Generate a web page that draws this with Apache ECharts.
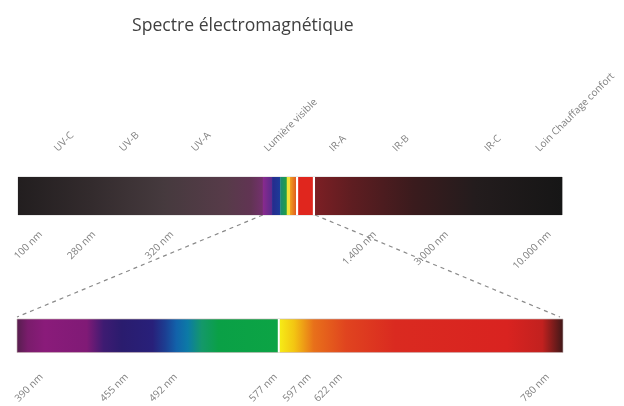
<!DOCTYPE html>
<html><head><meta charset="utf-8">
<script src="https://cdn.jsdelivr.net/npm/echarts@6/dist/echarts.min.js"></script>
<style>html,body{margin:0;padding:0;background:#fff}#c{width:624px;height:406px}</style>
</head><body><div id="c"></div>
<script>
// ---------------- data ----------------
const titleText = 'Spectre électromagnétique';
// Top bar: schematic position along the bar (0–100 %)
const topBandNames = ['UV-C', 'UV-B', 'UV-A', 'Lumière visible', 'IR-A', 'IR-B', 'IR-C', 'Loin Chauffage confort'];
const topBandPos = [7.0, 19.0, 32.2, 45.6, 57.6, 69.2, 86.1, 95.5];
const topTickLabels = ['100 nm', '280 nm', '320 nm', '1.400 nm', '3.000 nm', '10.000 nm'];
const topTickPos = [4.2, 14.0, 28.3, 65.6, 78.8, 97.7];
// Top bar segments (schematic units): UV, violet, blue, green, yellow, orange, white, red, white, IR
const topSegStart = [0, 45.0, 46.7, 48.2, 49.4, 50.0, 51.1, 51.5, 54.2, 54.6];
const topSegEnd   = [45.0, 46.7, 48.2, 49.4, 50.0, 51.1, 51.5, 54.2, 54.6, 100];
const visibleStart = 45.0;
const visibleEnd = 54.6;
// Bottom bar: wavelength scale (nm)
const nmMin = 390;
const nmMax = 780;
const nmTickLabels = ['390 nm', '455 nm', '492 nm', '577 nm', '597 nm', '622 nm', '780 nm'];
const nmTickPos = [4.5, 20.1, 29.1, 47.4, 53.6, 59.3, 97.2];
const nmDivider = 577;
const spectrumNm = [390, 398, 410, 440, 452, 465, 487, 496, 504, 512, 522, 534, 576, 578, 588, 602, 625, 660, 740, 765, 780];

// ---------------- style ----------------
const topSegFills = [
  [[0, '#221e1f'], [0.3, '#332b2d'], [0.6, '#463a3e'], [0.85, '#573b49'], [0.95, '#613453'], [1, '#74306e']],
  [[0, '#8a2a8e'], [1, '#5a2a8c']],
  [[0, '#262a8c'], [1, '#1c3c9a']],
  [[0, '#168a78'], [1, '#22a040']],
  '#f2e23a',
  [[0, '#f0a020'], [1, '#e05a20']],
  '#ffffff',
  '#e0261e',
  '#ffffff',
  [[0, '#7c1f24'], [0.15, '#5e1d21'], [0.4, '#3a1b1d'], [0.65, '#231c1d'], [1, '#161616']]
];
const spectrumColors = ['#561e4e', '#7a1c6c', '#8a1b7a', '#801a76', '#3e1b72', '#2a1c6e', '#28207a', '#1c3e92', '#1262aa', '#0c7aa6', '#14986a', '#0aa046', '#0ca445', '#f6ea16', '#f3c512', '#e8701a', '#e0441f', '#da2a20', '#d92320', '#c2211f', '#3e1818'];
const labelFont = { fontFamily: 'Open Sans', fontSize: 10, color: '#808080' };

function fillOf(f) {
  if (typeof f === 'string') return f;
  return new echarts.graphic.LinearGradient(0, 0, 1, 0, f.map(s => ({ offset: s[0], color: s[1] })));
}
function lookup(vals, labels) {
  return v => { const i = vals.findIndex(p => Math.abs(p - v) < 1e-6); return i >= 0 ? labels[i] : ''; };
}

const chart = echarts.init(document.getElementById('c'), null, { renderer: 'canvas' });
const hiddenAxisParts = { axisLine: { show: false }, axisTick: { show: false }, splitLine: { show: false } };

chart.setOption({
  animation: false,
  backgroundColor: '#ffffff',
  title: {
    text: titleText, left: 127, top: 12,
    textStyle: { fontFamily: 'Open Sans', fontSize: 17.6, fontWeight: 'normal', color: '#404040' }
  },
  grid: [
    { left: 18, top: 177, width: 544, height: 38 },
    { left: 17, top: 319, width: 546, height: 40 }
  ],
  xAxis: [
    Object.assign({ gridIndex: 0, type: 'value', min: 0, max: 100, position: 'top',
      axisLabel: Object.assign({ customValues: topBandPos, formatter: lookup(topBandPos, topBandNames), rotate: 45, margin: 27 }, labelFont)
    }, hiddenAxisParts),
    Object.assign({ gridIndex: 0, type: 'value', min: 0, max: 100, position: 'bottom',
      axisLabel: Object.assign({ customValues: topTickPos, formatter: lookup(topTickPos, topTickLabels), rotate: 45, margin: 18 }, labelFont)
    }, hiddenAxisParts),
    { gridIndex: 1, type: 'value', min: nmMin, max: nmMax, show: false },
    Object.assign({ gridIndex: 1, type: 'value', min: 0, max: 100, position: 'bottom',
      axisLabel: Object.assign({ customValues: nmTickPos, formatter: lookup(nmTickPos, nmTickLabels), rotate: 45, margin: 23 }, labelFont)
    }, hiddenAxisParts)
  ],
  yAxis: [
    { gridIndex: 0, type: 'value', min: 0, max: 1, show: false },
    { gridIndex: 1, type: 'value', min: 0, max: 1, show: false }
  ],
  series: [
    {
      type: 'custom', xAxisIndex: 1, yAxisIndex: 0, silent: true,
      data: topSegStart.map((s, i) => [s, topSegEnd[i], i]),
      renderItem: (params, api) => {
        const a = api.coord([api.value(0), 1]);
        const b = api.coord([api.value(1), 0]);
        return { type: 'rect', shape: { x: a[0], y: a[1], width: b[0] - a[0] + 0.3, height: b[1] - a[1] },
          style: { fill: fillOf(topSegFills[api.value(2)]) } };
      }
    },
    {
      type: 'custom', xAxisIndex: 2, yAxisIndex: 1, silent: true,
      data: [[nmMin, nmMax]],
      renderItem: (params, api) => {
        const lo = api.value(0), hi = api.value(1);
        const a = api.coord([lo, 1]);
        const b = api.coord([hi, 0]);
        const stops = spectrumNm.map((w, i) => ({ offset: (w - lo) / (hi - lo), color: spectrumColors[i] }));
        return { type: 'rect', shape: { x: a[0], y: a[1], width: b[0] - a[0], height: b[1] - a[1] },
          style: { fill: new echarts.graphic.LinearGradient(0, 0, 1, 0, stops), stroke: 'rgba(200,180,180,0.6)', lineWidth: 0.6 } };
      }
    },
    {
      type: 'custom', xAxisIndex: 2, yAxisIndex: 1, silent: true,
      data: [[nmDivider]],
      renderItem: (params, api) => {
        const a = api.coord([api.value(0), 1]);
        const b = api.coord([api.value(0), 0]);
        return { type: 'line', shape: { x1: a[0], y1: a[1], x2: b[0], y2: b[1] },
          style: { stroke: '#ffffff', lineWidth: 2 } };
      }
    }
  ]
});

// dashed connectors from the visible window of the top bar to the detailed bar
const pTL = chart.convertToPixel({ xAxisIndex: 1, yAxisIndex: 0 }, [visibleStart, 0]);
const pTR = chart.convertToPixel({ xAxisIndex: 1, yAxisIndex: 0 }, [visibleEnd, 0]);
const pBL = chart.convertToPixel({ xAxisIndex: 2, yAxisIndex: 1 }, [nmMin, 1]);
const pBR = chart.convertToPixel({ xAxisIndex: 2, yAxisIndex: 1 }, [nmMax, 1]);
const pTopA = chart.convertToPixel({ xAxisIndex: 1, yAxisIndex: 0 }, [0, 1]);
const pTopB = chart.convertToPixel({ xAxisIndex: 1, yAxisIndex: 0 }, [100, 0]);
const dash = { stroke: '#8a8a8a', lineWidth: 1.2, lineDash: [4, 4] };
chart.setOption({
  graphic: [
    { type: 'rect', silent: true, shape: { x: pTopA[0], y: pTopA[1], width: pTopB[0] - pTopA[0], height: pTopB[1] - pTopA[1] },
      style: { fill: 'none', stroke: 'rgba(190,190,190,0.8)', lineWidth: 0.8 } },
    { type: 'line', silent: true, shape: { x1: pTL[0], y1: pTL[1], x2: pBL[0], y2: pBL[1] - 2 }, style: dash },
    { type: 'line', silent: true, shape: { x1: pTR[0], y1: pTR[1], x2: pBR[0] - 3, y2: pBR[1] - 2 }, style: dash }
  ]
});
</script>
</body></html>
